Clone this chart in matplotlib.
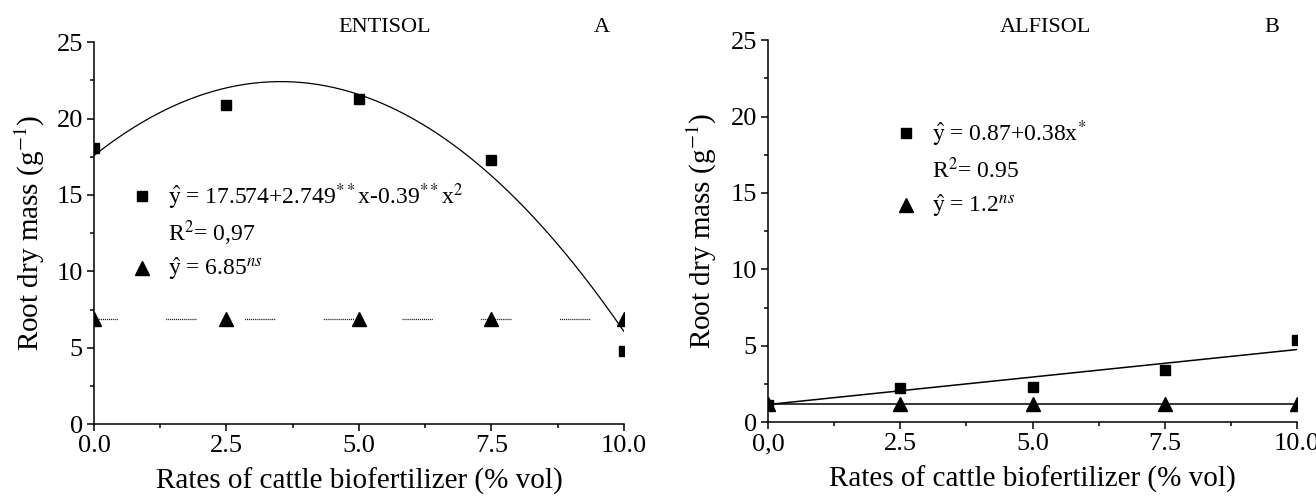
import numpy as np
import matplotlib
matplotlib.use("Agg")
import matplotlib.pyplot as plt

plt.rcParams["font.family"] = ["Liberation Serif", "DejaVu Serif"]
plt.rcParams["mathtext.fontset"] = "stix"
plt.rcParams["lines.scale_dashes"] = False

# ---- data ----
rates = [0.0, 2.5, 5.0, 7.5, 10.0]

# A: Entisol
entisol_sq = [18.1, 20.9, 21.25, 17.3, 4.8]
entisol_tri = [6.85, 6.85, 6.85, 6.85, 6.85]
entisol_fit = [-0.39, 2.749, 17.574]      # quadratic from the equation label
entisol_mean = 6.85

# B: Alfisol
alfisol_sq = [1.1, 2.25, 2.3, 3.4, 5.35]
alfisol_tri = [1.2, 1.2, 1.2, 1.2, 1.2]
alfisol_line_x = [0.0, 10.0]              # fitted line as drawn
alfisol_line_y = [1.15, 4.75]
alfisol_mean = 1.2

xticks = [0.0, 2.5, 5.0, 7.5, 10.0]
xticklabels_a = ["0.0", "2.5", "5.0", "7.5", "10.0"]
xticklabels_b = ["0,0", "2.5", "5.0", "7.5", "10.0"]
yticks = [0, 5, 10, 15, 20, 25]

eq_a = [r"$\hat{\mathrm{y}}$ = 17.574+2.749$^{**}$x-0.39$^{**}$x$^{2}$",
        r"R$^{2}$= 0,97",
        r"$\hat{\mathrm{y}}$ = 6.85$^{ns}$"]
eq_b = [r"$\hat{\mathrm{y}}$ = 0.87+0.38x$^{*}$",
        r"R$^{2}$= 0.95",
        r"$\hat{\mathrm{y}}$ = 1.2$^{ns}$"]

TICK_FS = 19
LABEL_FS = 21
EQ_FS = 17
TITLE_FS = 16
W, H = 1316, 496


def style_axes(ax, labels, ylab_px):
    for s in ["top", "right"]:
        ax.spines[s].set_visible(False)
    for s in ["left", "bottom"]:
        ax.spines[s].set_linewidth(1.1)
    ax.set_xlim(0, 10)
    ax.set_ylim(0, 25)
    ax.set_xticks(xticks)
    ax.set_xticklabels(labels)
    ax.set_yticks(yticks)
    ax.set_xticks(np.arange(1.25, 10, 2.5), minor=True)
    ax.set_yticks(np.arange(2.5, 25, 5), minor=True)
    ax.tick_params(which="major", direction="out", length=5, width=1.1,
                   labelsize=TICK_FS, pad=3)
    ax.tick_params(which="minor", direction="out", length=3, width=1.1)
    ax.set_xlabel("Rates of cattle biofertilizer (% vol)", fontsize=LABEL_FS)
    ax.set_ylabel(r"Root dry mass (g$^{-1}$)", fontsize=LABEL_FS)
    pos = ax.get_position()
    ax.xaxis.set_label_coords(0.5, -0.115)
    ax.yaxis.set_label_coords((ylab_px - pos.x0 * W) / (pos.width * W), 0.5)
    ax.yaxis.label.set_va("center")


fig = plt.figure(figsize=(W / 100, H / 100), dpi=100)
ax_a = fig.add_axes([0.0714, 0.145, 0.4027, 0.770])
ax_b = fig.add_axes([0.5836, 0.149, 0.4020, 0.770])

xs = np.linspace(0, 10, 200)

# ---- panel A ----
ax_a.plot(xs, np.polyval(entisol_fit, xs), color="black", lw=0.9)
ax_a.plot([0, 10], [entisol_mean, entisol_mean], color="black", lw=0.9,
          linestyle=(5, [0.7, 0.7] * 15 + [0.7, 35]))
ax_a.plot(rates, entisol_sq, "s", color="black", ms=6.5)
ax_a.plot(rates, entisol_tri, "^", color="black", ms=9.5)
style_axes(ax_a, xticklabels_a, 30)

# legend block A
ax_a.plot([0.9], [14.9], "s", color="black", ms=6.5)
ax_a.plot([0.9], [10.2], "^", color="black", ms=9.5)
for t, yy in zip(eq_a, [14.9, 12.5, 10.2]):
    ax_a.text(1.4, yy, t, fontsize=EQ_FS, va="center", ha="left")
fig.text(385 / W, 1 - 27 / H, "ENTISOL", fontsize=TITLE_FS, ha="center",
         va="center")
fig.text(602 / W, 1 - 27 / H, "A", fontsize=TITLE_FS, ha="center",
         va="center")

# ---- panel B ----
ax_b.plot(alfisol_line_x, alfisol_line_y, color="black", lw=1.1)
ax_b.plot([0, 10], [alfisol_mean, alfisol_mean], color="black", lw=1.1)
ax_b.plot(rates, alfisol_sq, "s", color="black", ms=6.5)
ax_b.plot(rates, alfisol_tri, "^", color="black", ms=9.5)
style_axes(ax_b, xticklabels_b, 702)

ax_b.plot([2.6], [18.9], "s", color="black", ms=6.5)
ax_b.plot([2.6], [14.2], "^", color="black", ms=9.5)
for t, yy in zip(eq_b, [18.9, 16.5, 14.2]):
    ax_b.text(3.1, yy, t, fontsize=EQ_FS, va="center", ha="left")
fig.text(1045 / W, 1 - 27 / H, "ALFISOL", fontsize=TITLE_FS, ha="center",
         va="center")
fig.text(1272 / W, 1 - 27 / H, "B", fontsize=TITLE_FS, ha="center",
         va="center")

fig.savefig("out.png", dpi=100)
